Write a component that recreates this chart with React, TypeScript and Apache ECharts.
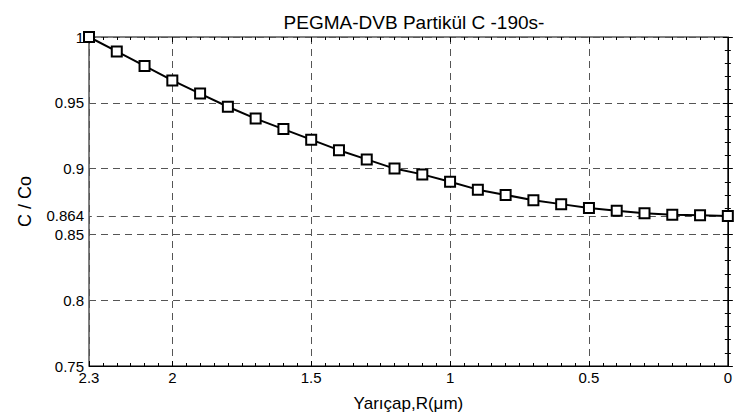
import React, { useEffect, useRef } from "react";
import * as echarts from "echarts";

const radius = [2.3, 2.2, 2.1, 2.0, 1.9, 1.8, 1.7, 1.6, 1.5, 1.4, 1.3, 1.2, 1.1, 1.0, 0.9, 0.8, 0.7, 0.6, 0.5, 0.4, 0.3, 0.2, 0.1, 0.0];
const ratio = [1.0, 0.989, 0.978, 0.967, 0.957, 0.947, 0.938, 0.93, 0.922, 0.914, 0.907, 0.9, 0.8956, 0.89, 0.884, 0.88, 0.876, 0.873, 0.87, 0.868, 0.866, 0.865, 0.8645, 0.864];
const markValue = 0.864;
const titleText = "PEGMA-DVB Partikül C -190s-";
const xName = "Yarıçap,R(μm)";
const yName = "C / Co";

const FONT = "Liberation Sans, Arial, sans-serif";
const dashed = { show: true, lineStyle: { color: "#555", type: [7, 5] as any, width: 1 } };

function tickAxis(kind: "x" | "y", position: string, interval: number, len: number) {
  const base: any = {
    type: "value",
    position,
    interval,
    axisLine: { show: false },
    axisTick: { show: true, inside: true, length: len, lineStyle: { color: "#000", width: 1 } },
    axisLabel: { show: false },
    splitLine: { show: false },
  };
  if (kind === "x") {
    base.min = 0;
    base.max = 2.3;
    base.inverse = true;
  } else {
    base.min = 0.75;
    base.max = 1;
  }
  return base;
}

export default function App() {
  const ref = useRef<HTMLDivElement>(null);
  useEffect(() => {
    const chart = echarts.init(ref.current!, null, { renderer: "svg" });
    chart.setOption({
      animation: false,
      backgroundColor: "#fff",
      textStyle: { fontFamily: FONT },
      title: {
        text: titleText,
        left: 409,
        textAlign: "center",
        top: 8,
        textStyle: { fontFamily: FONT, fontSize: 19, fontWeight: "normal", color: "#000" },
      },
      grid: { left: 89, right: 6, top: 37, bottom: 53, show: true, borderColor: "#000", borderWidth: 1, backgroundColor: "transparent" },
      xAxis: [
        {
          type: "value",
          inverse: true,
          min: 0,
          max: 2.3,
          interval: 0.5,
          position: "bottom",
          axisLine: { show: true, lineStyle: { color: "#000", width: 1 } },
          axisTick: { show: true, inside: true, length: 5, lineStyle: { color: "#000" } },
          axisLabel: { color: "#000", fontSize: 15, margin: 4, fontFamily: FONT },
          splitLine: dashed,
          name: xName,
          nameLocation: "middle",
          nameGap: 29,
          nameTextStyle: { color: "#000", fontSize: 17, fontFamily: FONT },
        },
        tickAxis("x", "bottom", 0.05, 3),
        tickAxis("x", "top", 0.05, 3),
        tickAxis("x", "top", 0.5, 5),
      ],
      yAxis: [
        {
          type: "value",
          min: 0.75,
          max: 1,
          interval: 0.05,
          position: "left",
          axisLine: { show: true, lineStyle: { color: "#000", width: 1 } },
          axisTick: { show: true, inside: true, length: 5, lineStyle: { color: "#000" } },
          axisLabel: { color: "#000", fontSize: 15, margin: 5, fontFamily: FONT },
          splitLine: dashed,
          name: yName,
          nameLocation: "middle",
          nameGap: 55,
          nameTextStyle: { color: "#000", fontSize: 18, fontFamily: FONT },
        },
        tickAxis("y", "left", 0.01, 3),
        tickAxis("y", "right", 0.01, 3),
        tickAxis("y", "right", 0.05, 5),
      ],
      series: [
        {
          type: "line",
          xAxisIndex: 0,
          yAxisIndex: 0,
          data: radius.map((r, i) => [r, ratio[i]]),
          symbol: "rect",
          symbolSize: 10,
          showAllSymbol: true,
          lineStyle: { color: "#000", width: 2 },
          itemStyle: { color: "#fff", borderColor: "#000", borderWidth: 2 },
          markLine: {
            silent: true,
            symbol: "none",
            precision: 3,
            lineStyle: { color: "#555", type: [7, 5], width: 1 },
            label: { show: true, position: "end", formatter: String(markValue), color: "#000", fontSize: 15, fontFamily: FONT, distance: 5 },
            data: [{ yAxis: markValue }],
          },
          z: 5,
        },
      ],
    });
    return () => chart.dispose();
  }, []);
  return <div ref={ref} style={{ position: "fixed", left: 0, top: 0, width: 735, height: 419 }} />;
}
